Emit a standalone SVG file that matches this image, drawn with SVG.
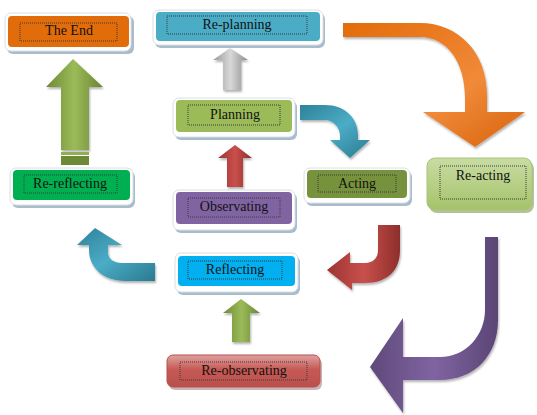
<svg xmlns="http://www.w3.org/2000/svg" width="537" height="415" viewBox="0 0 537 415">
<defs>
<style>
.frame{fill:#ffffff;stroke:#d9e0e6;stroke-width:1}
.shadow{fill:#a9bccb}
.dots{fill:none;stroke:#3a3a3a;stroke-width:1;stroke-dasharray:1 1}
.lbl{font-family:"Liberation Serif","Times New Roman",serif;font-size:14px;fill:#111;text-anchor:middle}
</style>
<filter id="ds" x="-20%" y="-20%" width="140%" height="140%">
<feDropShadow dx="1" dy="2" stdDeviation="1" flood-color="#000" flood-opacity="0.3"/>
</filter>
<linearGradient id="gOr" x1="0" y1="0" x2="1" y2="1"><stop offset="0" stop-color="#E36C0A"/><stop offset="0.6" stop-color="#F08A3A"/><stop offset="1" stop-color="#D8620A"/></linearGradient>
<linearGradient id="gTeal" x1="0" y1="0" x2="1" y2="1"><stop offset="0" stop-color="#2E8299"/><stop offset="0.5" stop-color="#4BACC6"/><stop offset="1" stop-color="#2A7A90"/></linearGradient>
<linearGradient id="gGray" x1="0" y1="0" x2="1" y2="0"><stop offset="0" stop-color="#9a9a9a"/><stop offset="0.5" stop-color="#d8d8d8"/><stop offset="1" stop-color="#8c8c8c"/></linearGradient>
<linearGradient id="gRed" x1="0" y1="0" x2="1" y2="0"><stop offset="0" stop-color="#9B3432"/><stop offset="0.5" stop-color="#C9504C"/><stop offset="1" stop-color="#8E2E2C"/></linearGradient>
<linearGradient id="gGreen" x1="0" y1="0" x2="1" y2="0"><stop offset="0" stop-color="#6F8A35"/><stop offset="0.5" stop-color="#9BBB59"/><stop offset="1" stop-color="#6A8532"/></linearGradient>
<linearGradient id="gPur" x1="0" y1="0" x2="1" y2="0"><stop offset="0" stop-color="#5F497A"/><stop offset="0.5" stop-color="#8064A2"/><stop offset="1" stop-color="#5A4574"/></linearGradient>
<linearGradient id="gReact" x1="0" y1="0" x2="0" y2="1"><stop offset="0" stop-color="#C9DCA3"/><stop offset="1" stop-color="#A4C36A"/></linearGradient>
<linearGradient id="gReobs" x1="0" y1="0" x2="0" y2="1"><stop offset="0" stop-color="#DFA3A1"/><stop offset="0.45" stop-color="#C65955"/><stop offset="1" stop-color="#B9504C"/></linearGradient>
</defs>

<g id="connectors">
<path filter="url(#ds)" fill="url(#gOr)" d="M343,23 L420,23 C458,23 487,52 487,95 L487,112 L525,112 L475,147 L423,112 L465,112 L465,98 C465,62 447,37 420,37 L343,37 Z"/>
<path filter="url(#ds)" fill="url(#gTeal)" d="M300,105 L325,105 C345,105 358,118 358,135 L358,140 L370,140 L350,158 L330,140 L340,140 L340,136 C340,127 333,120 325,120 L300,120 Z"/>
<path filter="url(#ds)" fill="url(#gGray)" d="M230,48 L248,60 L241,60 L241,90 L223,90 L223,60 L213,60 Z"/>
<path filter="url(#ds)" fill="url(#gRed)" d="M235,145 L252,158 L243,158 L243,187 L227,187 L227,158 L218,158 Z"/>
<path filter="url(#ds)" fill="url(#gGreen)" d="M73,59 L103,87 L89,87 L89,150 L61,150 L61,87 L46,87 Z"/>
<rect x="61" y="152" width="28" height="3" fill="#8FAF50"/>
<rect x="61" y="156" width="28" height="9" fill="#6F8A35"/>
<path filter="url(#ds)" fill="url(#gGreen)" d="M241,299 L260,313 L250,313 L250,342 L232,342 L232,313 L223,313 Z"/>
<path filter="url(#ds)" fill="url(#gTeal)" d="M95,228 L122,245 L108,245 L108,252 C108,259 114,263 122,263 L155,263 L155,281 L125,281 C103,281 89,267 89,250 L89,245 L77,245 Z"/>
<path filter="url(#ds)" fill="url(#gRed)" d="M378,225 L400,225 L400,250 C400,270 388,283 365,283 L352,283 L352,290 L327,270 L350,252 L350,263 L365,263 C373,263 378,258 378,250 Z"/>
<path filter="url(#ds)" fill="url(#gPur)" d="M485,237 L498,237 L498,320 C498,355 475,380 440,380 L403,380 L403,413 L370,367 L403,318 L403,357 L440,357 C466,357 485,335 485,310 Z"/>
</g>

<g id="the-end">
<rect class="shadow" x="7" y="16" width="127" height="38" rx="6"/>
<rect class="frame" x="5" y="13" width="126" height="38" rx="6"/>
<rect x="8" y="16" width="121" height="31" rx="4" fill="#E36C0A"/>
<rect class="dots" x="20" y="23" width="97" height="18"/>
<text class="lbl" x="69" y="35">The End</text>
</g>

<g id="re-planning">
<rect class="shadow" x="155" y="13" width="170" height="35" rx="6"/>
<rect class="frame" x="153" y="10" width="170" height="35" rx="6"/>
<rect x="156" y="12" width="164" height="29" rx="4" fill="#4BACC6"/>
<rect class="dots" x="167" y="16" width="140" height="18"/>
<text class="lbl" x="237" y="29">Re-planning</text>
</g>

<g id="planning">
<rect class="shadow" x="175" y="101" width="122" height="39" rx="6"/>
<rect class="frame" x="173" y="98" width="122" height="39" rx="6"/>
<rect x="176" y="100" width="116" height="32" rx="4" fill="#9BBB59"/>
<rect class="dots" x="188" y="105" width="92" height="20"/>
<text class="lbl" x="235" y="119">Planning</text>
</g>

<g id="observating">
<rect class="shadow" x="175" y="193" width="122" height="40" rx="6"/>
<rect class="frame" x="173" y="190" width="122" height="40" rx="6"/>
<rect x="176" y="192" width="116" height="32" rx="4" fill="#8064A2"/>
<rect class="dots" x="188" y="198" width="92" height="19"/>
<text class="lbl" x="234" y="211">Observating</text>
</g>

<g id="re-reflecting">
<rect class="shadow" x="12" y="171" width="123" height="37" rx="6"/>
<rect class="frame" x="10" y="168" width="123" height="37" rx="6"/>
<rect x="13" y="170" width="117" height="30" rx="4" fill="#00B050"/>
<rect class="dots" x="24" y="175" width="93" height="18"/>
<text class="lbl" x="70" y="188">Re-reflecting</text>
</g>

<g id="acting">
<rect class="shadow" x="306" y="171" width="106" height="35" rx="6"/>
<rect class="frame" x="304" y="168" width="106" height="35" rx="6"/>
<rect x="307" y="170" width="100" height="28" rx="4" fill="#76923C"/>
<rect class="dots" x="318" y="175" width="78" height="17"/>
<text class="lbl" x="357" y="188">Acting</text>
</g>

<g id="re-acting">
<rect x="429" y="161" width="105" height="52" rx="8" fill="#7F9A55" opacity="0.6"/>
<rect x="427" y="158" width="105" height="52" rx="8" fill="url(#gReact)" stroke="#A9C47A" stroke-width="1"/>
<rect class="dots" x="440" y="166" width="86" height="33"/>
<text class="lbl" x="483" y="180">Re-acting</text>
</g>

<g id="reflecting">
<rect class="shadow" x="177" y="256" width="123" height="39" rx="6"/>
<rect class="frame" x="175" y="253" width="123" height="39" rx="6"/>
<rect x="178" y="256" width="117" height="30" rx="4" fill="#00B0F0"/>
<rect class="dots" x="188" y="261" width="94" height="18"/>
<text class="lbl" x="235" y="274">Reflecting</text>
</g>

<g id="re-observating">
<rect x="169" y="358" width="153" height="32" rx="6" fill="#9a6a6a" opacity="0.5"/>
<rect x="167" y="355" width="153" height="32" rx="6" fill="url(#gReobs)" stroke="#B5504D" stroke-width="1"/>
<rect class="dots" x="180" y="362" width="127" height="18"/>
<text class="lbl" x="244" y="375">Re-observating</text>
</g>
</svg>
